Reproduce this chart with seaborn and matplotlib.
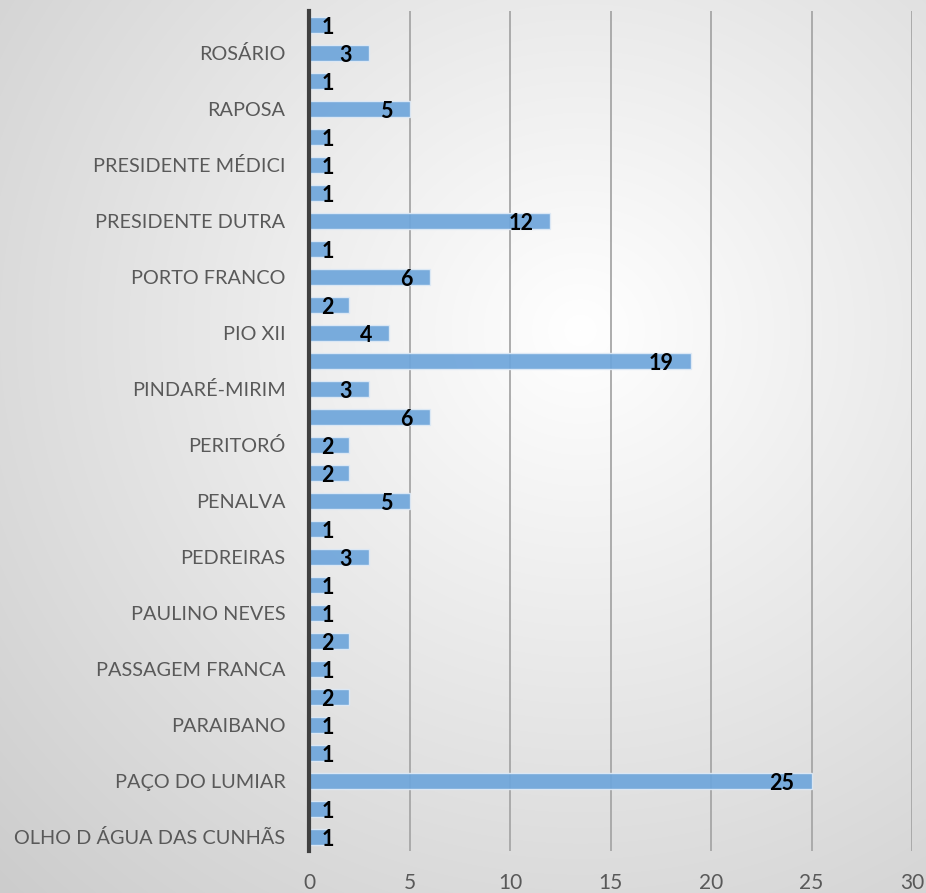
import numpy as np
import pandas as pd
import matplotlib
matplotlib.use("Agg")
import matplotlib.pyplot as plt
import seaborn as sns

# Categories top to bottom (every other label is shown on the axis, as in the reference)
categories = [
    "SANTA HELENA", "ROSÁRIO", "RIACHÃO", "RAPOSA", "PRESIDENTE VARGAS",
    "PRESIDENTE MÉDICI", "PRESIDENTE JUSCELINO", "PRESIDENTE DUTRA",
    "POÇÃO DE PEDRAS", "PORTO FRANCO", "PIRAPEMAS", "PIO XII", "PINHEIRO",
    "PINDARÉ-MIRIM", "PERI MIRIM", "PERITORÓ", "PEDRO DO ROSÁRIO", "PENALVA",
    "PAULO RAMOS", "PEDREIRAS", "PASTOS BONS", "PAULINO NEVES", "PARNARAMA",
    "PASSAGEM FRANCA", "PALMEIRÂNDIA", "PARAIBANO", "OLINDA NOVA DO MARANHÃO",
    "PAÇO DO LUMIAR", "NOVA OLINDA", "OLHO D ÁGUA DAS CUNHÃS",
]
values = [1, 3, 1, 5, 1, 1, 1, 12, 1, 6, 2, 4, 19, 3, 6, 2, 2, 5, 1, 3,
          1, 1, 2, 1, 2, 1, 1, 25, 1, 1]
shown_labels = [
    "", "ROSÁRIO", "", "RAPOSA", "", "PRESIDENTE MÉDICI", "", "PRESIDENTE DUTRA",
    "", "PORTO FRANCO", "", "PIO XII", "", "PINDARÉ-MIRIM", "", "PERITORÓ", "",
    "PENALVA", "", "PEDREIRAS", "", "PAULINO NEVES", "", "PASSAGEM FRANCA", "",
    "PARAIBANO", "", "PAÇO DO LUMIAR", "", "OLHO D ÁGUA DAS CUNHÃS",
]
x_ticks = [0, 5, 10, 15, 20, 25, 30]

df = pd.DataFrame({"municipio": categories, "valor": values})

sns.set_theme(style="white")
plt.rcParams["font.family"] = ["Lato", "DejaVu Sans"]

fig = plt.figure(figsize=(9.26, 8.93), dpi=100)

# radial gradient background
bg = fig.add_axes([0, 0, 1, 1], zorder=-10)
h, w = 893, 926
yy, xx = np.mgrid[0:h, 0:w]
cx, cy = 580, 330
r = np.sqrt(((xx - cx) / w) ** 2 + ((yy - cy) / h) ** 2)
r = r / r.max()
shade = 1.0 - 0.2 * np.clip(r, 0, 1) ** 1.0
img = np.dstack([shade, shade, shade])
bg.imshow(img, aspect="auto", extent=[0, 1, 0, 1], origin="upper")
bg.axis("off")

ax = fig.add_axes([309 / 926, 1 - 851 / 893, (912 - 309) / 926, (851 - 11) / 893])
ax.patch.set_alpha(0)

for t in x_ticks[1:]:
    ax.axvline(t, color="#a6a6a6", linewidth=1.3, zorder=1)

sns.barplot(data=df, x="valor", y="municipio", order=categories, orient="h",
            color="#6FA6DB", saturation=1, alpha=0.93, width=0.57,
            edgecolor="#dfeaf6", linewidth=1.0, ax=ax, zorder=3)

ax.set_xlim(0, 30)
ax.set_ylim(len(categories) - 0.5, -0.5)
ax.set_xticks(x_ticks)
ax.set_xticklabels([str(t) for t in x_ticks], fontsize=15, color="#595959")
ax.set_yticks(range(len(categories)))
ax.set_yticklabels(shown_labels, fontsize=14.3, color="#595959")
ax.tick_params(axis="y", length=0, pad=17)
ax.tick_params(axis="x", length=0, pad=16)
ax.set_xlabel("")
ax.set_ylabel("")

for s in ["top", "right", "bottom"]:
    ax.spines[s].set_visible(False)
ax.spines["left"].set_color("#404040")
ax.spines["left"].set_linewidth(3)
ax.spines["left"].set_zorder(6)

for i, v in enumerate(values):
    xr = max(v - 0.85, 1.25)
    ax.text(xr, i + 0.1, str(v), ha="right", va="center", fontsize=15.5,
            fontweight="bold", color="black", zorder=7)

fig.savefig("out.png", dpi=100)
